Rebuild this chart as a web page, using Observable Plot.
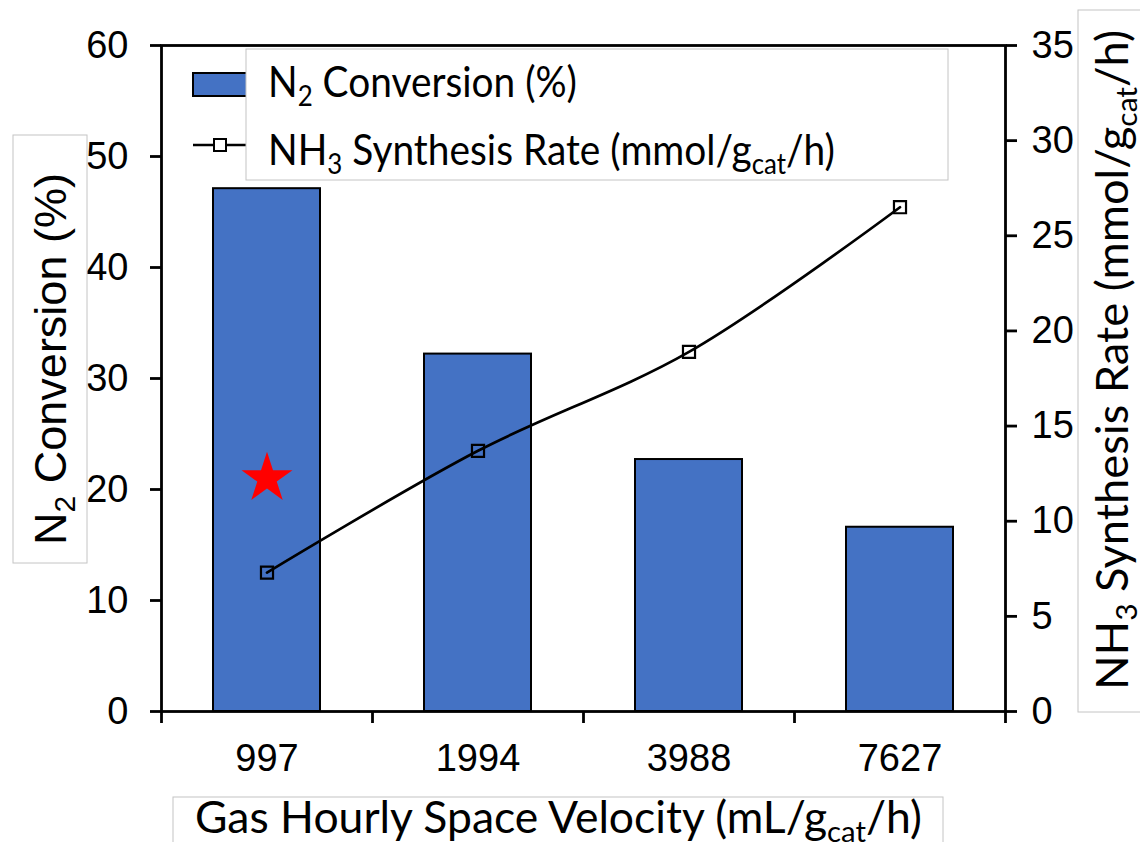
<!DOCTYPE html>
<html>
<head>
<meta charset="utf-8">
<script src="https://cdn.jsdelivr.net/npm/d3@7"></script>
<script src="https://cdn.jsdelivr.net/npm/@observablehq/plot@0.6"></script>
<style>
  body { margin: 0; background: #fff; }
  #chart { width: 1140px; height: 842px; }
</style>
</head>
<body>
<div id="chart"></div>
<script>
// Gas hourly space velocity categories (mL/g_cat/h)
const velocities = ["997", "1994", "3988", "7627"];
// N2 conversion (%), left axis
const conversion = [47.1, 32.2, 22.7, 16.6];
// NH3 synthesis rate (mmol/g_cat/h), right axis
const synthesisRate = [7.3, 13.7, 18.9, 26.5];
// Axis ticks
const leftTicks = [0, 10, 20, 30, 40, 50, 60];
const rightTicks = [0, 5, 10, 15, 20, 25, 30, 35];
// Highlighted condition (star marker, on the conversion scale)
const highlightVelocity = "997";
const highlightConversion = 21;

const LEFT_MAX = 60, RIGHT_MAX = 35;
const toLeft = v => v * LEFT_MAX / RIGHT_MAX;
const BLUE = "#4472C4";

const rows = velocities.map((v, i) => ({
  velocity: v, i, conversion: conversion[i], rate: synthesisRate[i]
}));
const star = [{ i: velocities.indexOf(highlightVelocity), conversion: highlightConversion }];

const chart = Plot.plot({
  width: 1140,
  height: 842,
  marginLeft: 161,
  marginRight: 135,
  marginTop: 45,
  marginBottom: 131,
  style: {
    fontFamily: "'Liberation Sans', Arial, sans-serif",
    fontSize: "38px",
    color: "#000",
    background: "#fff",
    overflow: "visible"
  },
  x: { domain: [0, velocities.length] },
  y: { domain: [0, LEFT_MAX] },
  marks: [
    Plot.rectY(rows, {
      x1: "i", x2: d => d.i + 1, y: "conversion",
      insetLeft: 52, insetRight: 52,
      fill: BLUE, stroke: "#000", strokeWidth: 2
    }),
    Plot.dot(star, {
      x: d => d.i + 0.5, y: "conversion",
      symbol: "star", r: 16, fill: "#ff0000", stroke: "none"
    }),
    Plot.line(rows, {
      x: d => d.i + 0.5, y: d => toLeft(d.rate),
      curve: "catmull-rom", stroke: "#000", strokeWidth: 2.7
    }),
    Plot.dot(rows, {
      x: d => d.i + 0.5, y: d => toLeft(d.rate),
      symbol: "square", r: 6.8, fill: "none", stroke: "#000", strokeWidth: 2.2
    }),
    Plot.frame({ stroke: "#000", strokeWidth: 2.8 }),
    Plot.axisY(leftTicks, {
      anchor: "left", tickSize: 11, tickPadding: 22, strokeWidth: 2.8, label: null
    }),
    Plot.axisY(rightTicks.map(toLeft), {
      anchor: "right", tickSize: 11, tickPadding: 15, strokeWidth: 2.8, label: null,
      tickFormat: d => String(Math.round(d * RIGHT_MAX / LEFT_MAX))
    }),
    Plot.axisX(d3.range(velocities.length + 1), {
      anchor: "bottom", tickSize: 12, strokeWidth: 2.8, tickFormat: () => "", label: null
    }),
    Plot.axisX(velocities.map((v, i) => i + 0.5), {
      anchor: "bottom", tickSize: 0, tickPadding: 33, label: null,
      tickFormat: d => velocities[Math.floor(d)]
    })
  ]
});

document.getElementById("chart").appendChild(chart);

// Overlays: legend and axis titles in boxed text
const svg = d3.select(chart);
const BOX_STROKE = "#c4c4c4";
const CAL = "Lato, 'Open Sans', sans-serif";

// parts: array of [string, isSubscript]
function richText(text, parts, subSize, shift) {
  let down = false;
  for (const [s, isSub] of parts) {
    const t = text.append("tspan").text(s);
    if (isSub) {
      t.attr("font-size", subSize);
      if (!down) { t.attr("dy", shift); down = true; }
    } else if (down) {
      t.attr("dy", -shift); down = false;
    }
  }
  return text;
}

// Legend
const lg = svg.append("g");
lg.append("rect").attr("x", 193).attr("y", 73).attr("width", 60).attr("height", 23)
  .attr("fill", BLUE).attr("stroke", "#000").attr("stroke-width", 2);
lg.append("line").attr("x1", 193).attr("x2", 248).attr("y1", 145).attr("y2", 145)
  .attr("stroke", "#000").attr("stroke-width", 2.5);
lg.append("rect").attr("x", 214).attr("y", 139).attr("width", 12).attr("height", 12)
  .attr("fill", "#fff").attr("stroke", "#000").attr("stroke-width", 2);
lg.append("rect").attr("x", 246).attr("y", 49).attr("width", 702).attr("height", 131)
  .attr("fill", "#fff").attr("stroke", BOX_STROKE).attr("stroke-width", 1);
richText(lg.append("text").attr("x", 268).attr("y", 97).attr("text-anchor", "start")
  .attr("font-family", CAL).attr("font-size", 42)
  .attr("textLength", 309).attr("lengthAdjust", "spacingAndGlyphs"),
  [["N", false], ["2", true], [" Conversion (%)", false]], 28, 9);
richText(lg.append("text").attr("x", 268).attr("y", 165).attr("text-anchor", "start")
  .attr("font-family", CAL).attr("font-size", 42)
  .attr("textLength", 567).attr("lengthAdjust", "spacingAndGlyphs"),
  [["NH", false], ["3", true], [" Synthesis Rate (mmol/g", false], ["cat", true], ["/h)", false]], 28, 9);

// Left axis title
const lt = svg.append("g");
lt.append("rect").attr("x", 13).attr("y", 135).attr("width", 74).attr("height", 428)
  .attr("fill", "#fff").attr("stroke", BOX_STROKE).attr("stroke-width", 1);
richText(lt.append("text").attr("transform", "translate(66,359) rotate(-90)")
  .attr("text-anchor", "middle")
  .attr("font-family", "'Liberation Sans', Arial, sans-serif").attr("font-size", 45),
  [["N", false], ["2", true], [" Conversion (%)", false]], 30, 9);

// Right axis title
const rt = svg.append("g");
rt.append("rect").attr("x", 1078).attr("y", 10).attr("width", 80).attr("height", 702)
  .attr("fill", "#fff").attr("stroke", BOX_STROKE).attr("stroke-width", 1);
richText(rt.append("text").attr("transform", "translate(1128,360) rotate(-90)")
  .attr("text-anchor", "middle")
  .attr("font-family", CAL).attr("font-size", 44)
  .attr("textLength", 660).attr("lengthAdjust", "spacingAndGlyphs"),
  [["NH", false], ["3", true], [" Synthesis Rate (mmol/g", false], ["cat", true], ["/h)", false]], 29, 9);

// X axis title
const xt = svg.append("g");
xt.append("rect").attr("x", 173).attr("y", 797).attr("width", 770).attr("height", 80)
  .attr("fill", "#fff").attr("stroke", BOX_STROKE).attr("stroke-width", 1);
richText(xt.append("text").attr("x", 195).attr("y", 833).attr("text-anchor", "start")
  .attr("font-family", CAL).attr("font-size", 44)
  .attr("textLength", 727).attr("lengthAdjust", "spacingAndGlyphs"),
  [["Gas Hourly Space Velocity (mL/g", false], ["cat", true], ["/h)", false]], 29, 9);
</script>
</body>
</html>
